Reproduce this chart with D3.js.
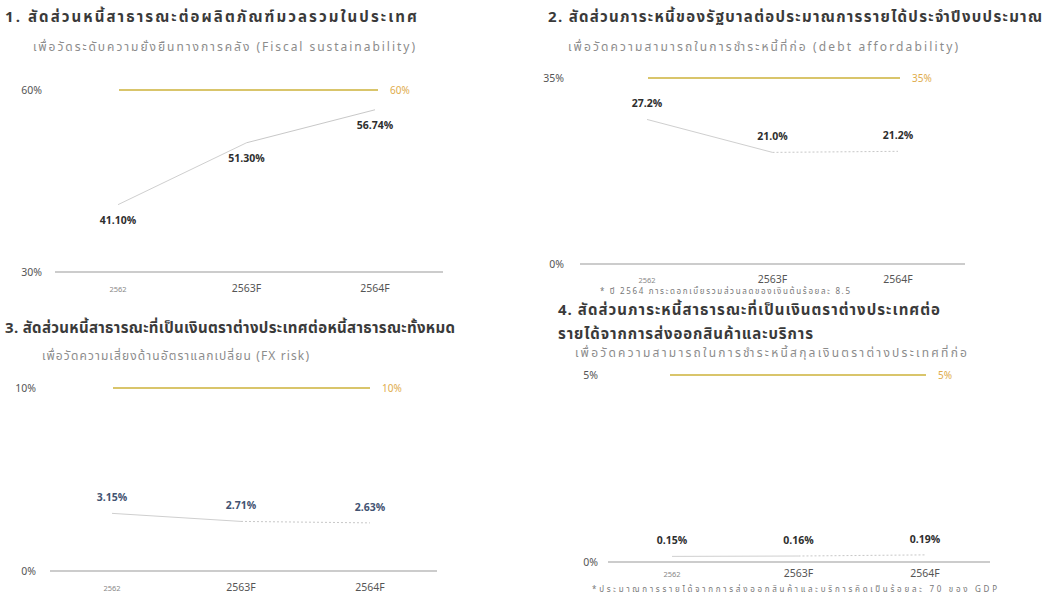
<!DOCTYPE html>
<html>
<head>
<meta charset="utf-8">
<script src="https://cdn.jsdelivr.net/npm/d3@7/dist/d3.min.js"></script>
<style>
  html, body { margin: 0; padding: 0; background: #fff; }
  svg { display: block; font-family: "Noto Sans Thai", "Noto Sans", "DejaVu Sans", sans-serif; }
</style>
</head>
<body>
<svg id="chart" width="1051" height="595"></svg>
<script>
// Fiscal years shown on every panel
const years = ["2562", "2563F", "2564F"];

// 1. Public debt to GDP (%)
const debtToGdp = [41.10, 51.30, 56.74];
const debtToGdpLimit = 60;
const debtToGdpTicks = [30, 60];

// 2. Government debt service to budget revenue (%)
const debtServiceToRevenue = [27.2, 21.0, 21.2];
const debtServiceLimit = 35;
const debtServiceTicks = [0, 35];

// 3. Foreign-currency public debt to total public debt (%)
const fxDebtShare = [3.15, 2.71, 2.63];
const fxDebtLimit = 10;
const fxDebtTicks = [0, 10];

// 4. Foreign-currency debt service to exports of goods and services (%)
const fxServiceToExports = [0.15, 0.16, 0.19];
const fxServiceLimit = 5;
const fxServiceTicks = [0, 5];

const panels = [
  {
    title: ["1. สัดส่วนหนี้สาธารณะต่อผลิตภัณฑ์มวลรวมในประเทศ"], titleW: [412],
    titleX: 5, titleY: 22,
    subtitle: "เพื่อวัดระดับความยั่งยืนทางการคลัง (Fiscal sustainability)", subW: 382,
    subX: 33, subY: 51,
    values: debtToGdp, limit: debtToGdpLimit, ticks: debtToGdpTicks, decimals: 2,
    xRange: [118, 375], yRange: [272, 90], axisX: [55, 443], tickX: 42,
    limitX: [119, 378], yearY: 292,
    labelBelow: true, dashForecast: false, labelColor: "#2e2e2e"
  },
  {
    title: ["2. สัดส่วนภาระหนี้ของรัฐบาลต่อประมาณการรายได้ประจำปีงบประมาณ"], titleW: [494],
    titleX: 548, titleY: 22,
    subtitle: "เพื่อวัดความสามารถในการชำระหนี้ที่ก่อ (debt affordability)", subW: 390,
    subX: 568, subY: 51,
    values: debtServiceToRevenue, limit: debtServiceLimit, ticks: debtServiceTicks, decimals: 1,
    xRange: [647, 898], yRange: [264, 78], axisX: [580, 965], tickX: 564,
    limitX: [648, 900], yearY: 283,
    labelBelow: false, dashForecast: true, labelColor: "#2e2e2e",
    footnote: "* ปี 2564 ภาระดอกเบี้ยรวมส่วนลดของเงินต้นร้อยละ 8.5", footW: 250, footX: 600, footY: 294
  },
  {
    title: ["3. สัดส่วนหนี้สาธารณะที่เป็นเงินตราต่างประเทศต่อหนี้สาธารณะทั้งหมด"], titleW: [450],
    titleX: 5, titleY: 333,
    subtitle: "เพื่อวัดความเสี่ยงด้านอัตราแลกเปลี่ยน (FX risk)", subW: 267,
    subX: 42, subY: 360,
    values: fxDebtShare, limit: fxDebtLimit, ticks: fxDebtTicks, decimals: 2,
    xRange: [112, 370], yRange: [571, 388], axisX: [50, 437], tickX: 36,
    limitX: [113, 370], yearY: 591,
    labelBelow: false, dashForecast: true, labelColor: "#435372"
  },
  {
    title: ["4. สัดส่วนภาระหนี้สาธารณะที่เป็นเงินตราต่างประเทศต่อ", "รายได้จากการส่งออกสินค้าและบริการ"], titleW: [382, 255],
    titleX: 558, titleY: 315,
    subtitle: "เพื่อวัดความสามารถในการชำระหนี้สกุลเงินตราต่างประเทศที่ก่อ", subW: 392,
    subX: 575, subY: 357,
    values: fxServiceToExports, limit: fxServiceLimit, ticks: fxServiceTicks, decimals: 2,
    xRange: [672, 925], yRange: [562, 375], axisX: [608, 990], tickX: 598,
    limitX: [670, 926], yearY: 577,
    labelBelow: false, dashForecast: true, labelColor: "#2e2e2e",
    footnote: "*ประมาณการรายได้จากการส่งออกสินค้าและบริการคิดเป็นร้อยละ 70 ของ GDP", footW: 405, footX: 592, footY: 591.5
  }
];

const svg = d3.select("#chart");

const defs = svg.append("defs");
defs.append("filter").attr("id", "glow")
  .attr("x", "-10%").attr("y", "-200%").attr("width", "120%").attr("height", "500%")
  .append("feGaussianBlur").attr("stdDeviation", 5);

panels.forEach(p => {
  const g = svg.append("g");

  // Heading and subheading
  p.title.forEach((line, i) => {
    g.append("text")
      .attr("x", p.titleX).attr("y", p.titleY + i * 24)
      .attr("font-size", 15).attr("font-weight", 700).attr("fill", "#3a3a3a")
      .attr("textLength", p.titleW[i]).attr("lengthAdjust", "spacing")
      .text(line);
  });
  g.append("text")
    .attr("x", p.subX).attr("y", p.subY)
    .attr("font-size", 12).attr("fill", "#8c8c8c")
    .attr("textLength", p.subW).attr("lengthAdjust", "spacing")
    .text(p.subtitle);

  const x = d3.scalePoint().domain(years).range(p.xRange);
  const y = d3.scaleLinear().domain(d3.extent(p.ticks)).range(p.yRange);

  // Baseline axis
  g.append("line")
    .attr("x1", p.axisX[0]).attr("x2", p.axisX[1])
    .attr("y1", y(p.ticks[0])).attr("y2", y(p.ticks[0]))
    .attr("stroke", "#9a9a9a").attr("stroke-width", 1.2);

  // Y tick labels
  g.selectAll(".ytick").data(p.ticks).join("text")
    .attr("x", p.tickX).attr("y", d => y(d))
    .attr("dy", "0.35em").attr("text-anchor", "end")
    .attr("font-size", 10.5).attr("fill", "#555")
    .text(d => d + "%");

  // Year labels
  g.selectAll(".year").data(years).join("text")
    .attr("x", d => x(d)).attr("y", p.yearY)
    .attr("text-anchor", "middle")
    .attr("font-size", (d, i) => i === 0 ? 7.5 : 10.5)
    .attr("fill", (d, i) => i === 0 ? "#888" : "#555")
    .text(d => d);

  // Threshold line with soft yellow haze
  const ly = y(p.limit);
  g.append("line")
    .attr("x1", p.limitX[0] - 10).attr("x2", p.limitX[1] + 40)
    .attr("y1", ly + 4).attr("y2", ly + 4)
    .attr("stroke", "#fff3b8").attr("stroke-width", 16).attr("opacity", 0.55)
    .attr("filter", "url(#glow)");
  g.append("line")
    .attr("x1", p.limitX[0]).attr("x2", p.limitX[1])
    .attr("y1", ly).attr("y2", ly)
    .attr("stroke", "#cdb23a").attr("stroke-width", 1.6);
  g.append("text")
    .attr("x", p.limitX[1] + 12).attr("y", ly).attr("dy", "0.35em")
    .attr("font-size", 10).attr("fill", "#e0ac4c")
    .text(p.limit + "%");

  // Series line: actual segment solid, forecast segment dotted
  const pts = years.map((yr, i) => [x(yr), y(p.values[i])]);
  const line = d3.line();
  g.append("path")
    .attr("d", line(pts.slice(0, 2)))
    .attr("fill", "none").attr("stroke", "#cfcfcf").attr("stroke-width", 1);
  g.append("path")
    .attr("d", line(pts.slice(1)))
    .attr("fill", "none").attr("stroke", "#c8c8c8").attr("stroke-width", 1)
    .attr("stroke-dasharray", p.dashForecast ? "2,2" : null);

  // Value labels
  g.selectAll(".val").data(p.values).join("text")
    .attr("x", (d, i) => x(years[i]))
    .attr("y", d => y(d) + (p.labelBelow ? 19 : -12))
    .attr("text-anchor", "middle")
    .attr("font-size", 10.5).attr("font-weight", 700).attr("fill", p.labelColor)
    .text(d => d.toFixed(p.decimals) + "%");

  if (p.footnote) {
    g.append("text")
      .attr("x", p.footX).attr("y", p.footY)
      .attr("font-size", 8).attr("fill", "#777")
      .attr("textLength", p.footW).attr("lengthAdjust", "spacing")
      .text(p.footnote);
  }
});
</script>
</body>
</html>
